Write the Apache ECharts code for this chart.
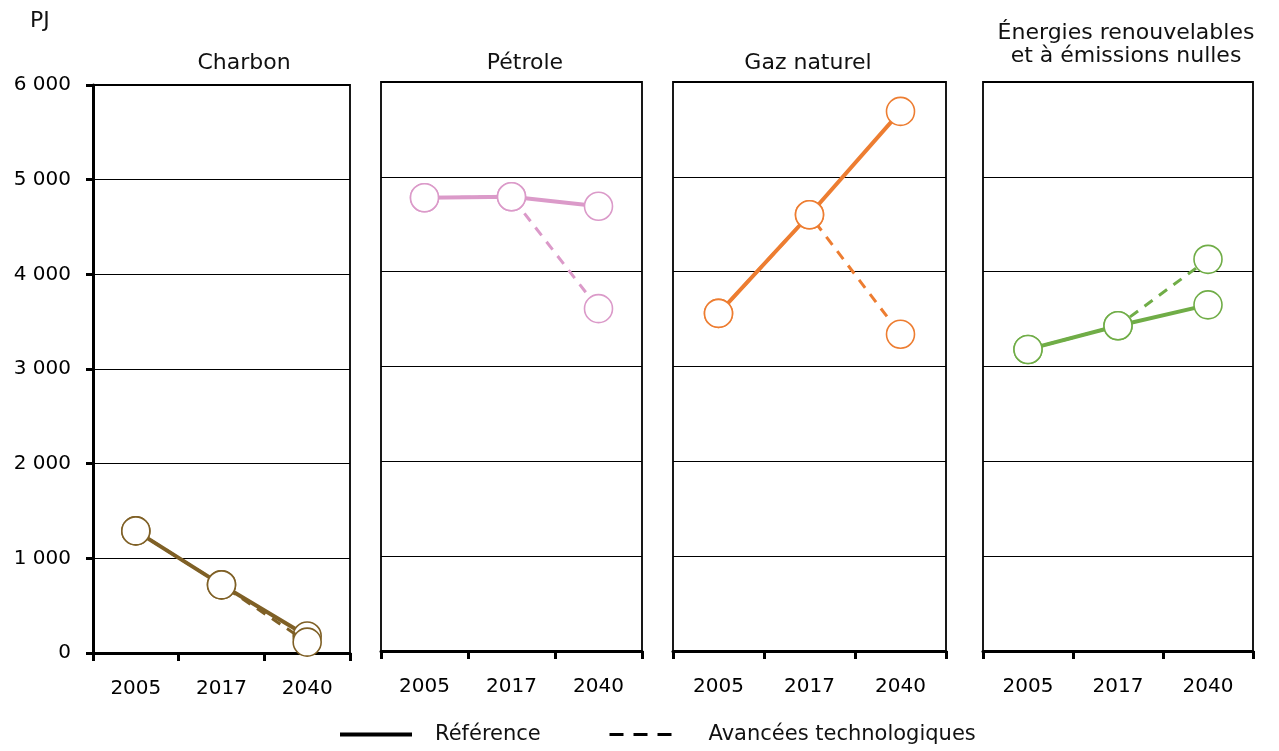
<!DOCTYPE html>
<html>
<head>
<meta charset="utf-8">
<script src="https://cdn.jsdelivr.net/npm/echarts@6/dist/echarts.min.js"></script>
<style>
html,body{margin:0;padding:0;background:#fff;}
#chart{width:1279px;height:751px;}
</style>
</head>
<body>
<div id="chart"></div>
<script>
// ---- data ----
var categories = ['2005', '2017', '2040'];
var panelNames = ['Charbon', 'Pétrole', 'Gaz naturel', 'Énergies renouvelables\net à émissions nulles'];
var yTicks = [0, 1000, 2000, 3000, 4000, 5000, 6000];
var refCharbon = [1290, 720, 180];
var techCharbon = [1290, 720, 115];
var refPetrole = [4780, 4790, 4690];
var techPetrole = [4780, 4790, 3610];
var refGaz = [3560, 4600, 5690];
var techGaz = [3560, 4600, 3340];
var refRenouv = [3180, 3430, 3650];
var techRenouv = [3180, 3430, 4130];
var legendNames = ['Référence', 'Avancées technologiques'];
var unitLabel = 'PJ';

// ---- layout / style ----
var FONT = 'DejaVu Sans';
var colors = ['#7F6026', '#DB9AC9', '#ED7D31', '#70AD47'];
var refData = [refCharbon, refPetrole, refGaz, refRenouv];
var techData = [techCharbon, techPetrole, techGaz, techRenouv];
var grids = [
  {left: 93, top: 85, width: 257, height: 568},
  {left: 381, top: 82, width: 261, height: 569},
  {left: 673, top: 82, width: 273, height: 569},
  {left: 983, top: 82, width: 270, height: 569}
];
var titlePos = [[244, 63], [525, 63], [808, 63], [1126, 45]];

function fmt(v) {
  var s = String(v);
  if (s.length > 3) s = s.slice(0, s.length - 3) + ' ' + s.slice(s.length - 3);
  return s;
}

var option = {
  animation: false,
  backgroundColor: '#fff',
  grid: grids.map(function (g) {
    return Object.assign({show: true, borderColor: '#000', borderWidth: 1.8, containLabel: false}, g);
  }),
  xAxis: grids.map(function (g, i) {
    return {
      type: 'category', gridIndex: i, data: categories, boundaryGap: true,
      axisLine: {show: true, lineStyle: {color: '#000', width: 3}},
      axisTick: {show: true, length: 8, lineStyle: {color: '#000', width: 3}},
      axisLabel: {color: '#000', fontFamily: FONT, fontSize: 20, margin: 26},
      splitLine: {show: false}
    };
  }),
  yAxis: grids.map(function (g, i) {
    return {
      type: 'value', gridIndex: i, min: yTicks[0], max: yTicks[yTicks.length - 1], interval: 1000,
      axisLine: {show: i === 0, lineStyle: {color: '#000', width: 3}},
      axisTick: {show: i === 0, length: 7, lineStyle: {color: '#000', width: 3}},
      axisLabel: {show: i === 0, color: '#000', fontFamily: FONT, fontSize: 20, margin: 22, formatter: fmt},
      splitLine: {show: true, lineStyle: {color: '#000', width: 1.2}}
    };
  }),
  legend: [
    {data: [legendNames[0]], left: 338, top: 724, padding: 0, itemWidth: 72, itemHeight: 14,
      itemStyle: {opacity: 0, color: 'transparent', borderWidth: 0},
      lineStyle: {color: '#000', width: 4, type: 'solid'},
      textStyle: {fontFamily: FONT, fontSize: 21, color: '#111', padding: [0, 0, 0, 18]}},
    {data: [legendNames[1]], left: 608, top: 724, padding: 0, itemWidth: 72, itemHeight: 14,
      itemStyle: {opacity: 0, color: 'transparent', borderWidth: 0},
      lineStyle: {color: '#000', width: 3, type: [14, 10]},
      textStyle: {fontFamily: FONT, fontSize: 21, color: '#111', padding: [0, 0, 0, 22]}}
  ],
  graphic: [
    {type: 'text', x: 30, y: 21, style: {text: unitLabel, font: '22px "' + FONT + '"', fill: '#111', align: 'left', verticalAlign: 'middle', textAlign: 'left', textVerticalAlign: 'middle'}}
  ].concat(panelNames.map(function (n, i) {
    return {type: 'text', x: titlePos[i][0], y: titlePos[i][1],
      style: {text: n, font: '22px "' + FONT + '"', fill: '#111', lineHeight: 23,
        align: 'center', verticalAlign: 'middle', textAlign: 'center', textVerticalAlign: 'middle'}};
  })),
  series: []
};

for (var i = 0; i < 4; i++) {
  option.series.push({
    type: 'line', xAxisIndex: i, yAxisIndex: i, data: refData[i], z: 3,
    symbol: 'circle', symbolSize: 28,
    lineStyle: {color: colors[i], width: 4, type: 'solid'},
    itemStyle: {color: '#fff', borderColor: colors[i], borderWidth: 1.6}
  });
  option.series.push({
    type: 'line', xAxisIndex: i, yAxisIndex: i, data: techData[i], z: 4,
    symbol: 'circle', symbolSize: 28,
    lineStyle: {color: colors[i], width: 3, type: [10, 8]},
    itemStyle: {color: '#fff', borderColor: colors[i], borderWidth: 1.6}
  });
}
option.series.push({name: legendNames[0], type: 'line', xAxisIndex: 0, yAxisIndex: 0, data: [], symbol: 'none',
  lineStyle: {color: '#000', width: 4, type: 'solid'}, itemStyle: {color: '#000'}});
option.series.push({name: legendNames[1], type: 'line', xAxisIndex: 0, yAxisIndex: 0, data: [], symbol: 'none',
  lineStyle: {color: '#000', width: 3, type: [14, 10]}, itemStyle: {color: '#000'}});

var chart = echarts.init(document.getElementById('chart'), null, {renderer: 'canvas'});
chart.setOption(option);
</script>
</body>
</html>
